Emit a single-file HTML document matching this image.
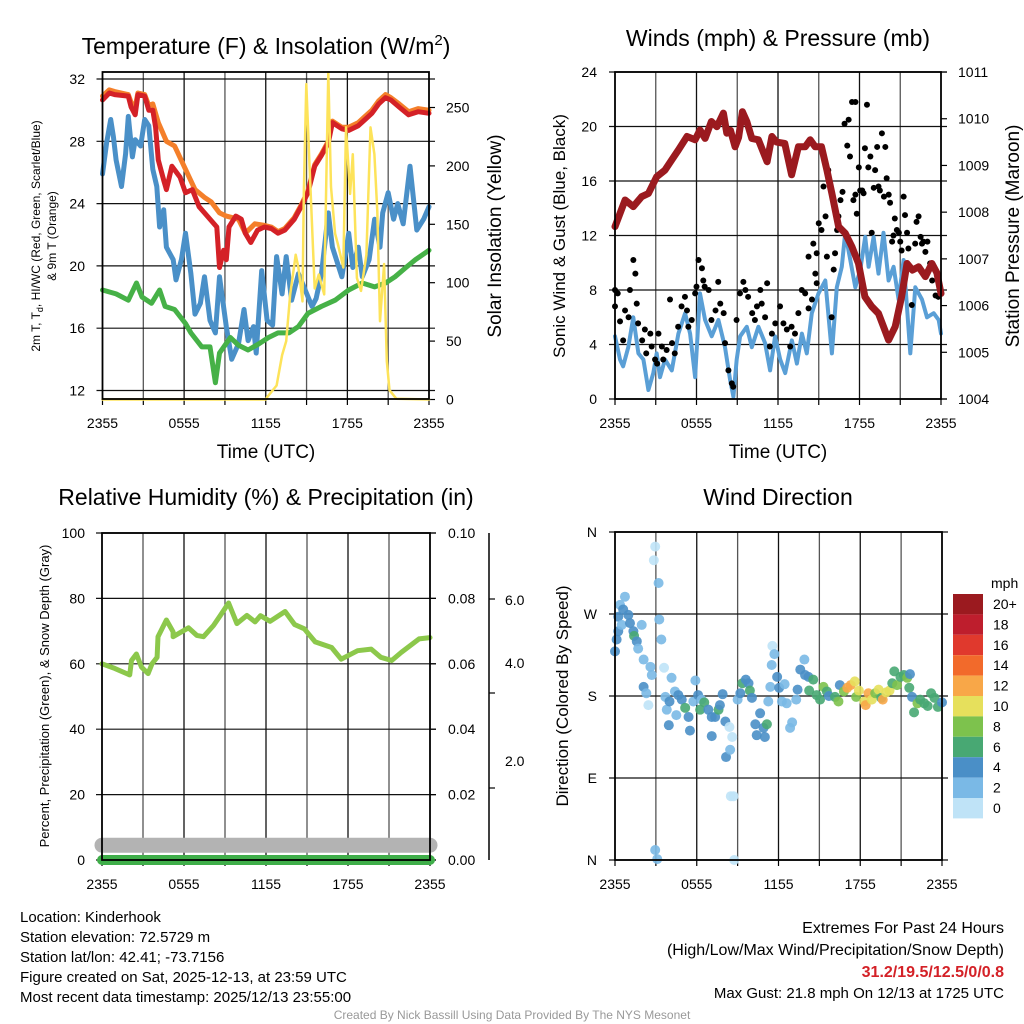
<!DOCTYPE html>
<html><head><meta charset="utf-8">
<style>
html,body{margin:0;padding:0;background:#fff;}
svg{display:block;font-family:"Liberation Sans",Arial,sans-serif;}
</style></head>
<body>
<svg id="fig" width="1024" height="1024" viewBox="0 0 1024 1024" xmlns="http://www.w3.org/2000/svg">
<g id="layer"></g>
</svg>
<script>
// ===== Panel 1: Temperature & Insolation (hours since 2355, deg F / W m-2) =====
const tRed = [0,0.5,0.9,1.9,2.1,2.4,2.6,3.1,3.4,3.7,3.9,4.1,4.5,4.7,5.1,5.7,6.1,6.6,7.1,7.5,8.4,8.6,8.9,9.1,9.3,9.8,10.2,10.5,10.9,11.4,11.9,12.4,12.9,13.4,14.1,14.6,15.1,15.6,16.1,16.6,16.9,17.6,18.1,18.8,19.3,19.8,20.3,20.8,21.2,21.8,22.5,23.2,24];
const vRed = [30.65,31.1,31.0,30.9,30.2,29.7,31.0,30.9,30.0,30.0,28.9,26.8,25.5,24.9,26.4,25.7,24.7,24.9,23.8,23.4,22.5,19.9,21.0,20.4,22.5,23.2,23.0,22.1,21.5,22.3,22.5,22.4,22.1,22.3,23.0,23.8,24.7,26.4,27.1,27.9,29.2,28.8,28.7,29.0,29.4,29.8,30.4,30.8,30.65,30.2,29.7,29.9,29.8];
const tOrange = [0,0.5,0.9,1.9,2.1,2.4,2.6,3.1,3.4,3.7,4.1,4.4,4.7,5.3,6.1,6.8,7.5,8.0,8.6,9.1,10.0,10.5,11.2,11.9,12.4,12.9,13.4,14.1,14.6,15.1,15.6,16.1,16.6,16.9,17.6,18.1,18.8,19.3,19.8,20.3,20.8,21.2,21.8,22.5,23.2,24];
const vOrange = [30.9,31.3,31.2,31.0,30.5,30.2,31.1,31.0,30.3,30.4,29.2,28.6,28.0,27.7,26.2,24.9,24.4,24.1,23.4,23.2,23.0,22.1,22.7,22.6,22.5,22.2,22.4,23.1,23.9,24.8,26.5,27.2,28.0,29.3,28.9,28.9,29.2,29.6,30.0,30.6,31.0,30.8,30.4,29.9,30.1,30.0];
const tBlue = [0,0.3,0.6,0.8,1.0,1.4,1.7,1.9,2.2,2.4,2.8,3.1,3.4,3.7,3.99,4.2,4.5,4.7,5.2,5.4,5.8,6.1,6.5,6.8,7.2,7.5,7.9,8.3,8.6,9.1,9.5,10.0,10.4,10.7,11.1,11.3,11.7,12.1,12.5,12.8,13.2,13.5,13.9,14.4,15.4,15.7,16.1,16.6,16.9,17.6,18.1,18.4,18.8,19.1,19.6,20.0,20.4,20.6,21.0,21.4,21.7,22.1,22.6,23.1,23.6,24];
const vBlue = [25.9,27.9,29.4,28.3,26.8,25.1,27.2,29.6,27.0,28.1,27.7,29.4,29.0,26.2,25.1,22.5,23.6,21.2,20.4,19.1,20.4,22.1,19.5,16.9,17.6,19.3,16.5,15.7,19.3,16.1,14.0,15.0,17.2,15.2,16.1,14.4,19.7,16.5,16.2,20.6,18.2,20.6,17.8,19.5,17.4,17.9,19.5,23.4,21.2,19.3,22.1,19.9,21.2,19.3,20.4,23.0,21.2,23.4,24.7,23.0,24.0,22.7,26.4,22.3,23.0,23.8,24.4,24.7];
const tGreen = [0,1.0,1.9,2.5,2.9,3.6,4.2,4.6,5.3,6.1,6.5,7.3,7.9,8.3,8.6,9.4,10.0,10.7,11.5,12.2,12.9,13.7,14.4,15.1,16.1,17.1,18.1,19.1,20.0,20.8,21.5,22.3,23.0,24];
const vGreen = [18.45,18.2,17.8,18.9,18.0,17.6,18.45,17.4,17.2,16.3,15.7,14.8,14.8,12.5,14.4,15.4,14.9,14.6,15.0,15.4,15.7,15.7,16.1,16.95,17.4,17.8,18.45,18.9,18.65,18.9,19.3,19.9,20.4,21.0];
const tSolar = [0,12.0,12.1,12.8,13.2,13.5,13.8,14.2,14.4,14.7,14.8,14.98,15.2,15.6,15.9,16.3,16.6,16.8,17.1,17.3,17.7,17.9,18.2,18.4,18.7,19.0,19.4,19.7,19.99,20.2,20.4,20.7,20.9,21.1,21.6,24];
const vSolar = [0,0,2,12,38,50,90,124,113,84,176,270,205,95,107,90,280,182,142,133,113,233,176,210,104,93,124,233,210,161,67,116,33,8,0.6,0];
const tempTicks = [12,16,20,24,28,32];
const solarTicks = [0,50,100,150,200,250];
const timeTickLabels = ["2355","0555","1155","1755","2355"];

// ===== Panel 2: Winds & Pressure =====
const tPres = [0,0.74,1.35,1.96,2.46,3.07,3.68,4.18,4.67,5.3,5.9,6.26,6.63,7.1,7.5,7.98,8.23,8.5,8.84,9.1,9.38,9.7,10.07,10.56,11.2,11.55,11.9,12.5,13.0,13.5,14.0,14.37,14.74,15.2,15.6,15.97,16.46,16.95,17.44,17.93,18.4,18.9,19.4,19.77,20.14,20.63,21.1,21.5,21.9,22.35,22.85,23.33,23.7,24];
const vPres = [1007.69,1008.26,1008.12,1008.33,1008.4,1008.76,1008.9,1009.12,1009.33,1009.62,1009.55,1009.76,1009.58,1009.94,1009.83,1010.12,1009.69,1009.75,1009.4,1009.6,1010.15,1009.94,1009.58,1009.55,1009.08,1009.62,1009.5,1009.47,1008.8,1009.4,1009.4,1009.55,1009.4,1009.4,1008.9,1008.4,1007.69,1007.55,1007.26,1006.9,1006.19,1005.98,1005.83,1005.55,1005.26,1005.55,1006.19,1006.9,1006.76,1006.83,1006.62,1006.9,1006.7,1006.26];
const tWind = [0,0.37,0.6,0.98,1.35,1.72,2.09,2.46,2.82,3.07,3.31,3.68,4.18,4.67,5.16,5.53,5.9,6.26,6.63,7.12,7.61,8.1,8.47,8.72,8.96,9.21,9.7,10.07,10.56,11.05,11.42,11.79,12.16,12.53,13.02,13.39,13.76,14.12,14.49,14.98,15.48,15.97,16.33,16.7,16.95,17.32,17.69,18.06,18.42,18.67,19.04,19.4,19.77,20.14,20.51,20.88,21.25,21.74,22.11,22.6,22.97,23.46,23.83,24];
const vWind = [4.6,2.9,2.4,3.8,6.0,3.35,2.9,0.66,1.9,3.35,1.6,2.9,2.1,4.8,6.3,4.8,1.6,7.75,5.8,4.6,5.8,3.8,1.4,0.17,2.9,4.6,5.3,3.8,5.3,4.1,2.1,4.6,2.9,1.9,4.3,2.6,4.8,3.35,6.3,7.75,8.7,3.35,8.2,9.7,12.2,10.2,8.2,9.5,11.9,9.7,11.9,9.2,12.2,8.7,9.7,7.3,10.2,3.35,8.2,7.3,6.0,6.3,5.8,4.8];
const tGust = [0,0.2,0,0.37,0.6,0.74,1.0,1.1,1.35,1.5,1.6,1.7,2.0,2.2,2.3,2.6,2.7,2.95,3.1,3.2,3.45,3.55,3.8,4.05,4.2,4.4,4.65,4.9,5.15,5.3,5.4,5.65,5.9,6.0,6.15,6.4,6.5,6.6,6.9,7.1,7.4,7.6,7.75,8.0,8.1,8.35,8.6,8.7,8.95,9.2,9.45,9.6,9.8,10.1,10.3,10.45,10.7,10.8,11.05,11.2,11.4,11.55,11.8,12.15,12.4,12.65,12.9,13.0,13.25,13.5,13.75,14.0,14.25,14.25,14.5,14.75,14.85,14.6,14.85,15.0,15.2,15.35,15.5,15.6,15.7,15.95,16.1,16.2,16.35,16.45,16.6,16.75,16.9,17.1,17.2,17.3,17.45,17.7,17.55,17.7,17.8,17.95,18.05,18.2,18.3,18.4,18.55,18.65,18.8,18.9,19.05,19.15,19.3,19.4,19.5,19.65,19.8,19.9,20.0,20.15,20.25,20.4,20.5,20.6,20.75,20.9,21.0,21.1,21.25,21.35,21.5,21.6,21.85,22.1,22.2,22.35,22.5,22.6,22.7,22.85,23.0,23.2,23.35,23.6,23.8];
const vGust = [8.0,7.75,6.8,5.7,4.3,6.5,6.0,8.0,10.2,9.2,7.0,5.55,4.3,5.1,3.35,4.8,3.85,2.9,2.6,4.8,3.85,2.9,3.6,7.3,4.1,3.35,5.3,6.8,7.5,6.5,5.3,5.8,7.75,8.25,10.2,9.6,8.7,8.25,8.0,5.8,6.5,8.6,7.0,6.3,4.1,2.1,1.15,0.9,5.8,7.75,8.6,8.0,7.5,6.3,5.8,6.8,8.0,7.0,6.0,8.5,3.85,4.8,5.55,6.8,5.55,5.1,3.85,5.3,4.8,6.3,8.0,7.75,6.65,10.45,7.3,9.2,8.5,11.4,10.7,12.9,12.4,15.6,13.4,10.45,16.8,6.0,9.5,10.7,12.4,13.4,14.6,15.2,20.2,18.6,20.5,17.8,21.8,21.8,14.6,15.0,13.6,17.0,15.3,15.3,15.1,18.4,21.6,17.0,17.8,12.2,15.5,16.8,18.5,15.6,15.3,19.5,14.85,18.5,16.2,15.0,14.4,11.55,12.0,13.25,12.4,12.2,11.55,10.9,14.85,13.5,12.2,11.05,6.9,11.4,13.0,13.4,11.9,11.4,11.55,10.8,11.55,9.95,8.7,7.6,7.5];
const windTicks = [0,4,8,12,16,20,24];
const presTicks = [1004,1005,1006,1007,1008,1009,1010,1011];

// ===== Panel 3: RH & Precip =====
const tRH = [0,0.93,2.03,2.16,2.52,2.89,3.37,3.66,4.03,4.1,4.71,5.2,5.2,6.33,6.94,7.43,8.16,8.65,9.26,9.87,10.6,11.2,11.6,12.3,13.4,14.1,14.8,15.6,16.8,17.5,18.7,19.7,20.4,21.2,21.9,23.2,24];
const vRH = [60.0,58.6,56.6,61.0,63.0,59.0,57.0,60.0,62.0,68.3,73.4,69.8,68.3,71.0,68.7,68.3,71.7,74.7,78.6,72.3,74.8,72.8,74.7,73.0,76.0,72.0,70.7,66.7,65.0,61.4,64.0,64.5,62.0,61.0,63.5,67.6,68.0,70.7];
const tPrecip = [0,24];
const vPrecip = [0,0];
const tSnow = [0,24];
const vSnow = [0.8,0.8];
const rhTicks = [0,20,40,60,80,100];
const precipTicks = ["0.00","0.02","0.04","0.06","0.08","0.10"];

// ===== Panel 4: Wind direction (hours, degrees, mph) =====
const tDir = [0,0.12,0.24,0.24,0.37,0.73,0.6,0.98,0.49,1.1,1.35,1.4,1.6,1.7,1.96,2.1,2.1,2.3,2.45,2.6,2.7,2.95,2.85,3.2,3.25,3.4,3.6,3.7,3.8,3.95,4.0,4.15,4.4,4.5,4.65,4.9,5.15,5.4,5.5,5.75,5.9,6.1,6.25,6.35,6.55,6.85,7.1,7.1,7.35,7.6,7.7,7.9,8.1,8.15,8.4,8.45,8.6,8.7,8.75,9.0,9.2,9.35,9.6,9.8,9.9,10.05,10.3,10.4,10.65,10.9,11.0,11.15,11.25,11.4,11.5,11.55,11.7,11.9,12.05,12.25,12.45,12.6,12.85,13.0,13.3,13.4,13.6,13.9,13.95,14.2,14.25,14.55,14.8,15.05,15.3,15.55,15.7,16.15,16.4,16.5,16.8,17.05,17.3,17.6,17.7,17.9,18.3,18.4,18.6,18.85,19.1,19.35,19.55,19.65,19.9,20.15,20.35,20.5,20.7,20.95,21.2,21.45,21.65,21.6,21.8,21.95,22.2,22.4,22.7,22.95,23.2,23.45,23.7,24.0,2.95,3.1,8.5];
const vDir = [229,242,251,267,280,289,275,269,258,260,251,246,240,232,258,220,190,183,170,212,203,344,329,304,264,242,211,179,165,148,174,200,185,159,181,176,167,157,142,174,197,181,165,176,173,165,157,136,157,165,170,182,152,113,146,121,135,70,0,176,183,194,198,194,186,178,149,137,161,145,135,149,174,190,214,235,226,201,189,174,193,172,145,151,176,187,209,220,203,201,186,198,181,176,190,185,180,179,174,192,185,189,192,196,179,186,174,170,183,176,183,187,178,176,184,186,194,207,192,201,203,200,204,189,179,162,172,176,172,169,183,178,168,173,11,1,70];
const vDirSpeed = [4,4,4,4,2,2,4,4,2,4,4,6,4,2,2,2,4,2,1,2,2,1,1,2,2,2,1,2,2,4,4,2,2,2,4,4,6,4,4,2,2,4,6,2,6,4,4,4,4,6,4,4,4,4,1,2,1,1,1,2,4,6,4,4,6,4,4,4,4,4,4,6,2,2,2,1,2,4,4,2,2,2,2,2,2,4,4,2,4,4,6,6,6,6,8,6,4,6,8,4,8,12,12,10,8,10,10,12,12,10,8,10,6,12,10,10,6,6,8,6,6,8,4,6,4,6,8,6,6,6,6,6,6,4,2,2,1];
const speedBins = ["20+","18","16","14","12","10","8","6","4","2","0"];
const speedColors = ["#9b1a1f","#be1e2d","#e0392d","#f26a2b","#f8a748","#e6e05c","#7dc24d","#48a873","#4a8fc7","#7ab9e6","#bfe3f7"];
const dirLabels = ["N","E","S","W","N"];

// ====================== drawing ======================
const NS = "http://www.w3.org/2000/svg";
const layer = document.getElementById("layer");
function mk(tag, attrs, parent) {
  const e = document.createElementNS(NS, tag);
  for (const k in attrs) e.setAttribute(k, attrs[k]);
  (parent || layer).appendChild(e);
  return e;
}
function txt(s, x, y, size, anchor, parent, extra) {
  const e = mk("text", Object.assign({x:x, y:y, "font-size":size, "text-anchor":anchor||"middle", fill:"#000"}, extra||{}), parent);
  e.textContent = s;
  return e;
}
function poly(ts, vs, xf, yf, color, w, parent) {
  const pts = ts.map((t,i)=>xf(t).toFixed(1)+","+yf(vs[i]).toFixed(1)).join(" ");
  return mk("polyline", {points:pts, fill:"none", stroke:color, "stroke-width":w, "stroke-linejoin":"round", "stroke-linecap":"round"}, parent);
}
function frame(g, x0, x1, y0, y1, hy, name) {
  // vertical grid
  for (let i=1;i<8;i++){
    const x = x0 + (x1-x0)*i/8;
    const l = mk("line",{x1:x,y1:y0,x2:x,y2:y1,stroke:(i%2?"#555":"#111"),"stroke-width":1.3},g);
    
    
    mk("line",{x1:x,y1:y1,x2:x,y2:y1+6,stroke:"#000","stroke-width":1.2},g);
  }
  for (let i=0;i<=8;i+=8){
    const x = x0 + (x1-x0)*i/8;
    mk("line",{x1:x,y1:y1,x2:x,y2:y1+6,stroke:"#000","stroke-width":1.2},g);
  }
  hy.forEach(y=>{
    const l = mk("line",{x1:x0-6,y1:y,x2:x1+6,y2:y,stroke:"#111","stroke-width":1.2},g);
    
    
  });
}
function border(g, x0, x1, y0, y1) {
  mk("rect",{x:x0,y:y0,width:x1-x0,height:y1-y0,fill:"none",stroke:"#000","stroke-width":1.8},g);
}
function timeLabels(g, x0, x1, y) {
  timeTickLabels.forEach((s,i)=>{
    const e = txt(s, x0+(x1-x0)*i/4, y, 14, "middle", g);
    
    
  });
}

// ---------- Panel 1 ----------
{
  const g = mk("g",{});
  
  
  const x0=102.5, x1=429, y0=72, y1=399;
  const X = t => x0 + t*(x1-x0)/24;
  const Y = v => 79 + (32-v)*15.575;
  const YS = v => 399.5 - v*1.168;
  frame(g, x0, x1, y0, y1, tempTicks.map(Y), "temp");
  solarTicks.forEach(v=>{
    mk("line",{x1:x1,y1:YS(v),x2:x1+6,y2:YS(v),stroke:"#000","stroke-width":1.2},g);
    const e = txt(String(v), 446, YS(v)+5, 14, "start", g);
    
    
  });
  tempTicks.forEach(v=>{
    const e = txt(String(v), 85, Y(v)+5, 14, "end", g);
    
    
  });
  const lo = poly(tOrange, vOrange, X, Y, "#f47f2a", 5, g);
  
  
  const lr = poly(tRed, vRed, X, Y, "#d42127", 5, g);
  
  
  const lb = poly(tBlue, vBlue, X, Y, "#4a90c8", 5, g);
  
  
  const lg = poly(tGreen, vGreen, X, Y, "#46b147", 5, g);
  
  
  const ly = poly(tSolar, vSolar, X, YS, "#fde35a", 2.5, g);
  
  
  border(g, x0, x1, y0, y1);
  timeLabels(g, x0, x1, 428);
  const t1 = mk("text",{x:266,y:54,"font-size":23,"text-anchor":"middle"},g);
  t1.innerHTML = 'Temperature (F) &amp; Insolation (W/m<tspan dy="-9" font-size="15">2</tspan><tspan dy="9">)</tspan>';
  
  
  const xa = txt("Time (UTC)", 266, 458, 19, "middle", g);
  
  
  const ya = mk("text",{x:0,y:0,"font-size":12,"text-anchor":"middle",transform:"translate(40,236) rotate(-90)"},g);
  ya.innerHTML = '2m T, T<tspan dy="3" font-size="9">d</tspan><tspan dy="-3">, HI/WC (Red, Green, Scarlet/Blue)</tspan>';
  
  
  const ya2 = txt("& 9m T (Orange)", 0, 0, 12, "middle", g, {transform:"translate(56,236) rotate(-90)"});
  
  
  const yr = txt("Solar Insolation (Yellow)", 0, 0, 19, "middle", g, {transform:"translate(501,236) rotate(-90)"});
  
  
}

// ---------- Panel 2 ----------
{
  const g = mk("g",{});
  
  
  const x0=615, x1=941, y0=72, y1=399;
  const X = t => x0 + t*(x1-x0)/24;
  const Y = v => 399 - v*13.625;
  const YP = v => 399 - (v-1004)*46.71;
  frame(g, x0, x1, y0, y1, windTicks.map(Y), "wind");
  windTicks.forEach(v=>{
    const e = txt(String(v), 597, Y(v)+5, 14, "end", g);
    
    
  });
  presTicks.forEach(v=>{
    mk("line",{x1:x1,y1:YP(v),x2:x1+6,y2:YP(v),stroke:"#000","stroke-width":1.2},g);
    const e = txt(String(v), 958, YP(v)+5, 14, "start", g);
    
    
  });
  const lw = poly(tWind, vWind, X, Y, "#5a9fd6", 4, g);
  
  
  tGust.forEach((t,i)=>{
    const c = mk("circle",{cx:X(t),cy:Y(vGust[i]),r:3,fill:"#000"},g);
    
    
  });
  const lp = poly(tPres, vPres, X, YP, "#9b1a1f", 7, g);
  
  
  border(g, x0, x1, y0, y1);
  timeLabels(g, x0, x1, 428);
  const t2 = txt("Winds (mph) & Pressure (mb)", 778, 46, 23, "middle", g);
  
  
  const xa = txt("Time (UTC)", 778, 458, 19, "middle", g);
  
  
  const ya = txt("Sonic Wind & Gust (Blue, Black)", 0, 0, 17, "middle", g, {transform:"translate(565,236) rotate(-90)"});
  
  
  const yr = txt("Station Pressure (Maroon)", 0, 0, 19, "middle", g, {transform:"translate(1019,236) rotate(-90)"});
  
  
}

// ---------- Panel 3 ----------
{
  const g = mk("g",{});
  
  
  const x0=102, x1=430, y0=533, y1=860;
  const X = t => x0 + t*(x1-x0)/24;
  const Y = v => 860 - v*3.27;
  const YPr = v => 860 - v*3270;
  const YSn = v => 860 - v*18.5;
  frame(g, x0, x1, y0, y1, rhTicks.map(Y), "rh");
  rhTicks.forEach(v=>{
    const e = txt(String(v), 85, Y(v)+5, 14, "end", g);
    
    
  });
  precipTicks.forEach((s,i)=>{
    const y = y1 - (y1-y0)*i/5;
    mk("line",{x1:x1,y1:y,x2:x1+6,y2:y,stroke:"#000","stroke-width":1.2},g);
    const e = txt(s, 448, y+5, 14, "start", g);
    
    
  });
  // snow depth axis
  const sa = mk("line",{x1:489,y1:533,x2:489,y2:860,stroke:"#000","stroke-width":1.5},g);
  
  
  [599,693,788].forEach(y=>mk("line",{x1:489,y1:y,x2:495,y2:y,stroke:"#000","stroke-width":1.2},g));
  [["6.0",605],["4.0",668],["2.0",766]].forEach(p=>{
    const e = txt(p[0], 505, p[1], 14, "start", g);
    
    
  });
  const ls = poly(tSnow, vSnow, X, YSn, "#b3b3b3", 15, g);
  
  
  const lpr = poly(tPrecip, vPrecip, X, YPr, "#3fae49", 10, g);
  
  
  const lrh = poly(tRH, vRH, X, Y, "#8cc84b", 5, g);
  
  
  border(g, x0, x1, y0, y1);
  timeLabels(g, x0, x1, 889);
  const t3 = txt("Relative Humidity (%) & Precipitation (in)", 266, 505, 23, "middle", g);
  
  
  const ya = txt("Percent, Precipitation (Green), & Snow Depth (Gray)", 0, 0, 13, "middle", g, {transform:"translate(49,696) rotate(-90)"});
  
  
}

// ---------- Panel 4 ----------
{
  const g = mk("g",{});
  
  
  const x0=615, x1=942, y0=532, y1=860;
  const X = t => x0 + t*(x1-x0)/24;
  const Y = d => 860 - d*(y1-y0)/360;
  frame(g, x0, x1, y0, y1, [90,180,270].map(Y).concat([y0,y1]), "dir");
  dirLabels.forEach((s,i)=>{
    const e = txt(s, 597, Y(i*90)+5, 14, "end", g);
    
    
  });
  const colorFor = s => speedColors[10 - Math.min(10, Math.floor(s/2))];
  tDir.forEach((t,i)=>{
    const c = mk("circle",{cx:X(t),cy:Y(vDir[i]),r:5,fill:colorFor(vDirSpeed[i]),"fill-opacity":0.9},g);
    
    
  });
  border(g, x0, x1, y0, y1);
  timeLabels(g, x0, x1, 889);
  const t4 = txt("Wind Direction", 778, 505, 23, "middle", g);
  
  
  const ya = txt("Direction (Colored By Speed)", 0, 0, 17, "middle", g, {transform:"translate(568,696) rotate(-90)"});
  
  
  // colorbar
  const cb = mk("g",{},g);
  
  
  const mphT = txt("mph", 991, 588, 14, "start", cb);
  
  
  speedBins.forEach((s,i)=>{
    const y = 594 + i*20.4;
    const r = mk("rect",{x:953,y:y,width:30,height:20.4,fill:speedColors[i]},cb);
    
    
    const e = txt(s, 993, y+15, 14, "start", cb);
    
    
  });
}

// ---------- Footer text ----------
{
  const g = mk("g",{});
  
  
  ["Location: Kinderhook","Station elevation: 72.5729 m","Station lat/lon: 42.41; -73.7156","Figure created on Sat, 2025-12-13, at 23:59 UTC","Most recent data timestamp: 2025/12/13 23:55:00"].forEach((s,i)=>{
    const e = txt(s, 20, 922 + i*20, 15, "start", g);
    
    
  });
  const r1 = txt("Extremes For Past 24 Hours", 1004, 933, 16, "end", g);
  
  
  const r2 = txt("(High/Low/Max Wind/Precipitation/Snow Depth)", 1004, 955, 16, "end", g);
  
  
  const r3 = txt("31.2/19.5/12.5/0/0.8", 1004, 977, 16, "end", g, {fill:"#d42127","font-weight":"bold"});
  
  
  const r4 = txt("Max Gust: 21.8 mph On 12/13 at 1725 UTC", 1004, 998, 15, "end", g);
  
  
  const cr = txt("Created By Nick Bassill Using Data Provided By The NYS Mesonet", 512, 1019, 12, "middle", g, {fill:"#999"});
  
  
}
</script>
</body></html>
